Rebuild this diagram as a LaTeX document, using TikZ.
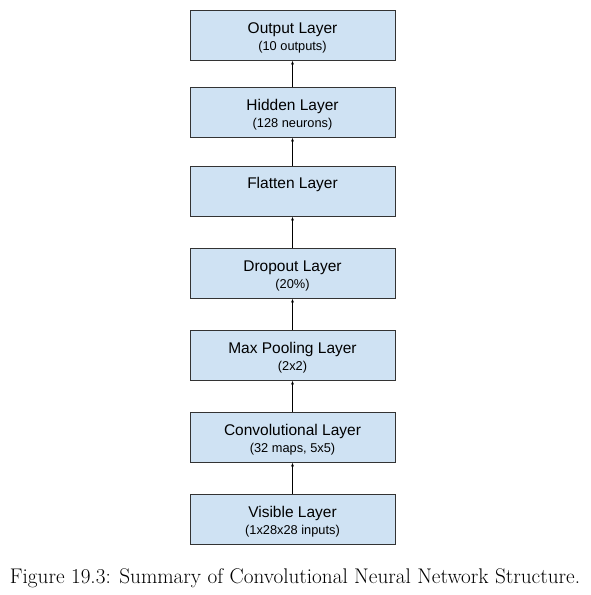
\documentclass[tikz,border=0pt]{standalone}
\usepackage{fontspec}
\newfontfamily\boxfont{Liberation Sans}
\usetikzlibrary{arrows.meta}
\definecolor{boxblue}{HTML}{CFE2F3}
\definecolor{boxline}{HTML}{333333}
\begin{document}
\begin{tikzpicture}[x=1pt,y=-1pt,
  layer/.style={draw=boxline,line width=0.9pt,fill=boxblue,minimum width=205pt,minimum height=50pt,inner sep=0pt,align=center,font=\boxfont\fontsize{15.5}{18}\selectfont},
  conn/.style={-{Latex[length=4pt,width=3pt]},line width=0.8pt,black}]
\useasboundingbox (0,0) rectangle (591,595);
\newcommand{\sub}[1]{\\[-1pt]{\fontsize{12.8}{15}\selectfont #1}}
\node[layer] (out) at (292.5,35) {\rule{0pt}{16pt}Output Layer\sub{(10 outputs)}};
\node[layer] (hid) at (292.5,112) {\rule{0pt}{16pt}Hidden Layer\sub{(128 neurons)}};
\node[layer] (fla) at (292.5,191) {\rule{0pt}{16pt}Flatten Layer\\[-1pt]{\fontsize{12.8}{15}\selectfont\strut}};
\node[layer] (dro) at (292.5,273) {\rule{0pt}{16pt}Dropout Layer\sub{(20\%)}};
\node[layer] (max) at (292.5,355) {\rule{0pt}{16pt}Max Pooling Layer\sub{(2x2)}};
\node[layer] (con) at (292.5,437) {\rule{0pt}{16pt}Convolutional Layer\sub{(32 maps, 5x5)}};
\node[layer] (vis) at (292.5,519) {\rule{0pt}{16pt}Visible Layer\sub{(1x28x28 inputs)}};
\draw[conn] (vis) -- (con);
\draw[conn] (con) -- (max);
\draw[conn] (max) -- (dro);
\draw[conn] (dro) -- (fla);
\draw[conn] (fla) -- (hid);
\draw[conn] (hid) -- (out);
\node[font=\fontsize{21.2}{24}\selectfont] (cap) at (295,578) {Figure 19.3: Summary of Convolutional Neural Network Structure.};
\end{tikzpicture}
\end{document}
